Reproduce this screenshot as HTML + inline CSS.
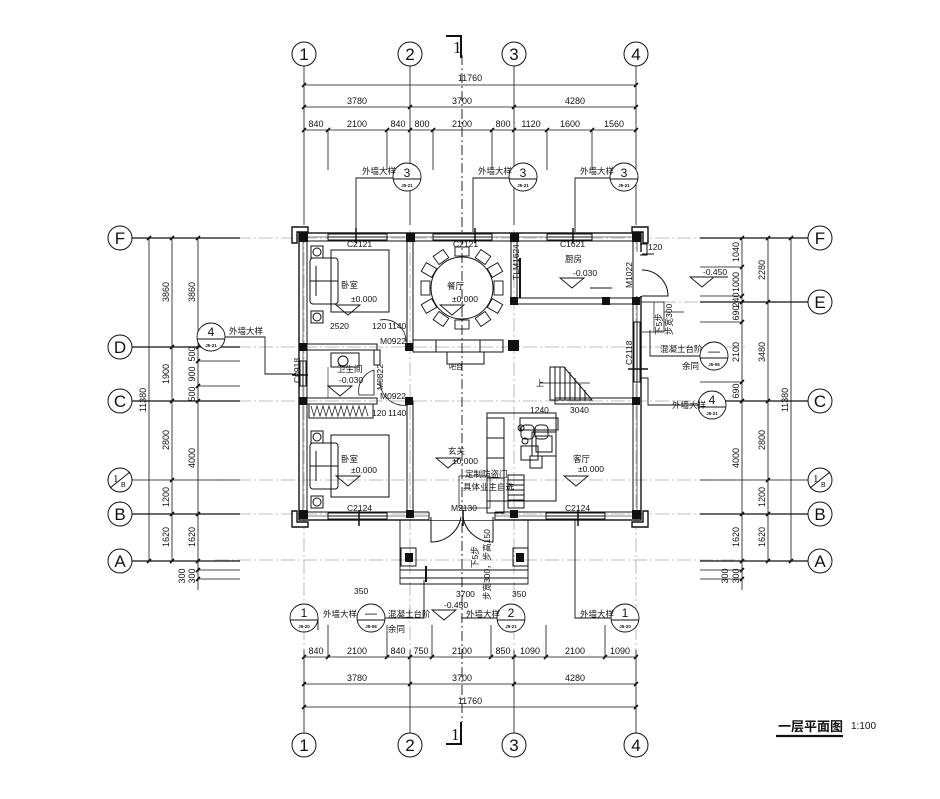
<!DOCTYPE html>
<html><head><meta charset="utf-8"><style>
html,body{margin:0;padding:0;background:#fff;}
svg{display:block;}
text{font-family:"Liberation Sans","Noto Sans CJK SC",sans-serif;fill:#111;}
.d{font-size:9px;text-anchor:middle;}
.c{font-size:8.5px;}
.ax{font-family:"Liberation Serif","Noto Serif CJK SC",serif;font-size:17px;text-anchor:middle;}
</style></head><body>
<svg width="940" height="799" viewBox="0 0 940 799" xmlns="http://www.w3.org/2000/svg">
<rect width="940" height="799" fill="#fff"/>
<g stroke="#aaa" stroke-width="0.8" stroke-dasharray="14 3 2 3">
<line x1="215" y1="238" x2="745" y2="238"/>
<line x1="215" y1="347" x2="745" y2="347"/>
<line x1="215" y1="401" x2="745" y2="401"/>
<line x1="215" y1="480" x2="745" y2="480"/>
<line x1="215" y1="514" x2="745" y2="514"/>
<line x1="215" y1="560" x2="745" y2="560"/>
<line x1="640" y1="302" x2="745" y2="302"/>
<line x1="304" y1="230" x2="304" y2="650"/>
<line x1="410" y1="230" x2="410" y2="650"/>
<line x1="514" y1="230" x2="514" y2="650"/>
<line x1="636" y1="230" x2="636" y2="650"/>
</g>
<g stroke="#111" fill="none">
<line x1="462" y1="55" x2="462" y2="722" stroke-width="0.9" stroke-dasharray="10 3 2 3"/>
<polyline points="446,36 461,36 461,58" stroke-width="2"/>
<polyline points="446,744 461,744 461,722" stroke-width="2"/>
</g>
<text x="453" y="53" style="font-family:'Liberation Serif',serif;font-size:17px">1</text>
<text x="451" y="740" style="font-family:'Liberation Serif',serif;font-size:17px">1</text>

<g stroke="#111" fill="#fff" stroke-width="1">
<circle cx="304" cy="54" r="12"/><circle cx="410" cy="54" r="12"/><circle cx="514" cy="54" r="12"/><circle cx="636" cy="54" r="12"/>
<circle cx="304" cy="745" r="12"/><circle cx="410" cy="745" r="12"/><circle cx="514" cy="745" r="12"/><circle cx="636" cy="745" r="12"/>
</g>
<g class="ax"><text x="304" y="60">1</text><text x="410" y="60">2</text><text x="514" y="60">3</text><text x="636" y="60">4</text>
<text x="304" y="751">1</text><text x="410" y="751">2</text><text x="514" y="751">3</text><text x="636" y="751">4</text></g>
<g stroke="#111" stroke-width="0.8">
<line x1="304" y1="66" x2="304" y2="225"/><line x1="410" y1="66" x2="410" y2="225"/><line x1="514" y1="66" x2="514" y2="225"/><line x1="636" y1="66" x2="636" y2="225"/>
<line x1="304" y1="650" x2="304" y2="733"/><line x1="410" y1="650" x2="410" y2="733"/><line x1="514" y1="650" x2="514" y2="733"/><line x1="636" y1="650" x2="636" y2="733"/>
<line x1="304" y1="85" x2="636" y2="85"/><line x1="304" y1="107" x2="636" y2="107"/><line x1="304" y1="130" x2="636" y2="130"/>
<line x1="328" y1="130" x2="328" y2="170"/><line x1="387" y1="130" x2="387" y2="170"/><line x1="433" y1="130" x2="433" y2="170"/><line x1="492" y1="130" x2="492" y2="170"/><line x1="547" y1="130" x2="547" y2="170"/><line x1="592" y1="130" x2="592" y2="170"/>
<line x1="304" y1="657" x2="636" y2="657"/><line x1="304" y1="684" x2="636" y2="684"/><line x1="304" y1="707" x2="636" y2="707"/>
<line x1="328" y1="625" x2="328" y2="657"/><line x1="387" y1="625" x2="387" y2="657"/><line x1="432" y1="625" x2="432" y2="657"/><line x1="491" y1="625" x2="491" y2="657"/><line x1="546" y1="625" x2="546" y2="657"/><line x1="605" y1="625" x2="605" y2="657"/>
</g>
<g stroke="#111" stroke-width="1.6">
<path d="M302,87 l4,-4 M634,87 l4,-4 M302,109 l4,-4 M408,109 l4,-4 M512,109 l4,-4 M634,109 l4,-4 M302,132 l4,-4 M326,132 l4,-4 M385,132 l4,-4 M408,132 l4,-4 M431,132 l4,-4 M490,132 l4,-4 M512,132 l4,-4 M545,132 l4,-4 M590,132 l4,-4 M634,132 l4,-4"/>
<path d="M302,659 l4,-4 M326,659 l4,-4 M385,659 l4,-4 M408,659 l4,-4 M430,659 l4,-4 M489,659 l4,-4 M512,659 l4,-4 M544,659 l4,-4 M603,659 l4,-4 M634,659 l4,-4 M302,686 l4,-4 M408,686 l4,-4 M512,686 l4,-4 M634,686 l4,-4 M302,709 l4,-4 M634,709 l4,-4"/>
</g>
<g class="d">
<text x="470" y="81">11760</text>
<text x="357" y="104">3780</text><text x="462" y="104">3700</text><text x="575" y="104">4280</text>
<text x="316" y="127">840</text><text x="357" y="127">2100</text><text x="398" y="127">840</text><text x="422" y="127">800</text><text x="462" y="127">2100</text><text x="503" y="127">800</text><text x="531" y="127">1120</text><text x="570" y="127">1600</text><text x="614" y="127">1560</text>
<text x="316" y="654">840</text><text x="357" y="654">2100</text><text x="398" y="654">840</text><text x="421" y="654">750</text><text x="462" y="654">2100</text><text x="503" y="654">850</text><text x="530" y="654">1090</text><text x="575" y="654">2100</text><text x="620" y="654">1090</text>
<text x="357" y="681">3780</text><text x="462" y="681">3700</text><text x="575" y="681">4280</text>
<text x="470" y="704">11760</text>
</g>

<g stroke="#111" fill="#fff" stroke-width="1">
<circle cx="120" cy="238" r="12"/><circle cx="120" cy="347" r="12"/><circle cx="120" cy="401" r="12"/><circle cx="120" cy="480" r="12"/><circle cx="120" cy="514" r="12"/><circle cx="120" cy="561" r="12"/>
<circle cx="820" cy="238" r="12"/><circle cx="820" cy="302" r="12"/><circle cx="820" cy="401" r="12"/><circle cx="820" cy="480" r="12"/><circle cx="820" cy="514" r="12"/><circle cx="820" cy="561" r="12"/>
<line x1="110" y1="488" x2="130" y2="472"/><line x1="810" y1="488" x2="830" y2="472"/>
</g>
<g class="ax"><text x="120" y="244">F</text><text x="120" y="353">D</text><text x="120" y="407">C</text><text x="120" y="520">B</text><text x="120" y="567">A</text>
<text x="820" y="244">F</text><text x="820" y="308">E</text><text x="820" y="407">C</text><text x="820" y="520">B</text><text x="820" y="567">A</text></g>
<text x="113" y="482" style="font-size:11px;font-family:'Liberation Serif',serif">1</text><text x="121" y="487" style="font-size:7px">B</text>
<text x="813" y="482" style="font-size:11px;font-family:'Liberation Serif',serif">1</text><text x="821" y="487" style="font-size:7px">B</text>

<g stroke="#111" stroke-width="0.8">
<line x1="132" y1="238" x2="240" y2="238" stroke-width="1.3"/><line x1="132" y1="347" x2="240" y2="347" stroke-width="1.3"/><line x1="132" y1="401" x2="240" y2="401" stroke-width="1.3"/><line x1="132" y1="480" x2="240" y2="480"/><line x1="132" y1="514" x2="240" y2="514" stroke-width="1.3"/><line x1="132" y1="561" x2="240" y2="561" stroke-width="1.3"/>
<line x1="149" y1="238" x2="149" y2="561"/><line x1="172" y1="238" x2="172" y2="561"/><line x1="198" y1="238" x2="198" y2="590"/>
<line x1="198" y1="361" x2="240" y2="361"/><line x1="198" y1="386" x2="240" y2="386"/><line x1="198" y1="570" x2="240" y2="570"/><line x1="198" y1="579" x2="240" y2="579"/>
<line x1="808" y1="238" x2="700" y2="238" stroke-width="1.3"/><line x1="808" y1="302" x2="700" y2="302" stroke-width="1.3"/><line x1="808" y1="401" x2="700" y2="401" stroke-width="1.3"/><line x1="808" y1="480" x2="700" y2="480"/><line x1="808" y1="514" x2="700" y2="514" stroke-width="1.3"/><line x1="808" y1="561" x2="700" y2="561" stroke-width="1.3"/>
<line x1="742" y1="238" x2="742" y2="590"/><line x1="768" y1="238" x2="768" y2="561"/><line x1="791" y1="238" x2="791" y2="561"/>
<line x1="700" y1="267" x2="742" y2="267"/><line x1="700" y1="296" x2="742" y2="296"/><line x1="700" y1="322" x2="742" y2="322"/><line x1="700" y1="382" x2="742" y2="382"/><line x1="700" y1="570" x2="742" y2="570"/><line x1="700" y1="579" x2="742" y2="579"/>
</g>
<g stroke="#111" stroke-width="1.6">
<path d="M147,240 l4,-4 M170,240 l4,-4 M196,240 l4,-4 M170,349 l4,-4 M196,349 l4,-4 M196,363 l4,-4 M196,388 l4,-4 M170,403 l4,-4 M196,403 l4,-4 M170,482 l4,-4 M170,516 l4,-4 M196,516 l4,-4 M147,563 l4,-4 M170,563 l4,-4 M196,563 l4,-4 M196,572 l4,-4 M196,581 l4,-4"/>
<path d="M740,240 l4,-4 M766,240 l4,-4 M789,240 l4,-4 M740,269 l4,-4 M740,298 l4,-4 M740,304 l4,-4 M766,304 l4,-4 M740,324 l4,-4 M740,384 l4,-4 M740,403 l4,-4 M766,403 l4,-4 M766,482 l4,-4 M740,516 l4,-4 M766,516 l4,-4 M740,563 l4,-4 M766,563 l4,-4 M789,563 l4,-4 M740,572 l4,-4 M740,581 l4,-4"/>
</g>
<g class="d">
<text transform="translate(169,292) rotate(-90)">3860</text><text transform="translate(195,292) rotate(-90)">3860</text>
<text transform="translate(169,374) rotate(-90)">1900</text><text transform="translate(195,354) rotate(-90)">500</text><text transform="translate(195,374) rotate(-90)">900</text><text transform="translate(195,394) rotate(-90)">500</text>
<text transform="translate(146,400) rotate(-90)">11380</text>
<text transform="translate(169,440) rotate(-90)">2800</text><text transform="translate(195,458) rotate(-90)">4000</text>
<text transform="translate(169,497) rotate(-90)">1200</text>
<text transform="translate(169,537) rotate(-90)">1620</text><text transform="translate(195,537) rotate(-90)">1620</text>
<text transform="translate(185,576) rotate(-90)">300</text><text transform="translate(195,576) rotate(-90)">300</text>
<text transform="translate(739,252) rotate(-90)">1040</text><text transform="translate(739,282) rotate(-90)">1000</text><text transform="translate(739,300) rotate(-90)">240</text><text transform="translate(739,313) rotate(-90)">690</text><text transform="translate(739,352) rotate(-90)">2100</text><text transform="translate(739,391) rotate(-90)">690</text>
<text transform="translate(739,458) rotate(-90)">4000</text><text transform="translate(739,537) rotate(-90)">1620</text>
<text transform="translate(765,270) rotate(-90)">2280</text><text transform="translate(765,352) rotate(-90)">3480</text><text transform="translate(765,440) rotate(-90)">2800</text><text transform="translate(765,497) rotate(-90)">1200</text><text transform="translate(765,537) rotate(-90)">1620</text>
<text transform="translate(788,400) rotate(-90)">11380</text>
<text transform="translate(728,576) rotate(-90)">300</text><text transform="translate(739,576) rotate(-90)">300</text>
</g>

<g stroke="#111" fill="none" stroke-width="1">
<rect x="299" y="233" width="342" height="287" stroke-width="1.4"/>
<rect x="307" y="241" width="326" height="271"/>
<line x1="303" y1="241" x2="303" y2="512" stroke-width="0.6"/><line x1="637" y1="241" x2="637" y2="512" stroke-width="0.6"/>
<line x1="307" y1="237" x2="633" y2="237" stroke-width="0.6"/><line x1="307" y1="516" x2="633" y2="516" stroke-width="0.6"/>
<path d="M292,227 h16 v5 h-11 v11 h-5 z" fill="#fff" stroke-width="1.4"/>
<path d="M648,227 h-16 v5 h11 v11 h5 z" fill="#fff" stroke-width="1.4"/>
<path d="M292,527 h16 v-5 h-11 v-11 h-5 z" fill="#fff" stroke-width="1.4"/>
<path d="M648,527 h-16 v-5 h11 v-11 h5 z" fill="#fff" stroke-width="1.4"/>
<rect x="328" y="234" width="59" height="6" fill="#fff"/><line x1="328" y1="237" x2="387" y2="237"/>
<rect x="433" y="234" width="59" height="6" fill="#fff"/><line x1="433" y1="237" x2="492" y2="237"/>
<rect x="547" y="234" width="45" height="6" fill="#fff"/><line x1="547" y1="237" x2="592" y2="237"/>
<rect x="328" y="513" width="59" height="6" fill="#fff"/><line x1="328" y1="516" x2="387" y2="516"/>
<rect x="546" y="513" width="59" height="6" fill="#fff"/><line x1="546" y1="516" x2="605" y2="516"/>
<rect x="300" y="361" width="6" height="25" fill="#fff"/><line x1="303" y1="361" x2="303" y2="386"/>
<rect x="634" y="322" width="6" height="60" fill="#fff"/><line x1="637" y1="322" x2="637" y2="382"/>
<rect x="407" y="241" width="6" height="106"/>
<rect x="407" y="401" width="6" height="112"/>
<rect x="511" y="241" width="6" height="57"/>
<rect x="517" y="298" width="116" height="6"/>
<rect x="307" y="344" width="70" height="6"/>
<rect x="307" y="398" width="70" height="6"/>
<rect x="374" y="350" width="6" height="15"/>
<rect x="555" y="398" width="78" height="6"/>
<line x1="520" y1="258" x2="520" y2="298" stroke-width="2"/>
<rect x="413" y="340" width="90" height="12"/>
<line x1="436" y1="340" x2="436" y2="352"/><line x1="480" y1="340" x2="480" y2="352"/>
<rect x="447" y="352" width="37" height="12"/>
<rect x="429" y="510" width="66" height="10" fill="#fff" stroke="none"/>
<line x1="429" y1="512" x2="429" y2="520"/><line x1="495" y1="512" x2="495" y2="520"/>
<path d="M431,517 v25 a30,30 0 0 0 30,-25"/><path d="M493,517 v25 a30,30 0 0 1 -30,-25" />
<rect x="634" y="252" width="8" height="44" fill="#fff" stroke="none"/>
<path d="M642,254 h12 M640,297 h2"/>
<path d="M642,296 h26 a26,26 0 0 0 -26,-26"/>
<path d="M640,244 h7 v11 h-7"/>
<path d="M374,370 v25 h-15 a22,22 0 0 1 15,-25" stroke-width="0.8"/>
<path d="M380,380 a24,24 0 0 0 28,25" stroke-width="0.8"/>
<path d="M380,320 a22,22 0 0 1 26,22" stroke-width="0.8"/>
<rect x="309" y="404" width="64" height="14"/>
<path d="M311,406 l3,10 l3,-10 l3,10 l3,-10 l3,10 l3,-10 l3,10 l3,-10 l3,10 l3,-10 l3,10 l3,-10 l3,10 l3,-10 l3,10 l3,-10 l3,10 l3,-10 l3,10" stroke-width="0.7"/>
<rect x="331" y="250" width="58" height="62"/><rect x="310" y="258" width="28" height="46" rx="3"/><line x1="316" y1="266" x2="316" y2="296"/><line x1="310" y1="281" x2="338" y2="281"/>
<rect x="331" y="435" width="58" height="62"/><rect x="310" y="443" width="28" height="46" rx="3"/><line x1="316" y1="451" x2="316" y2="481"/><line x1="310" y1="466" x2="338" y2="466"/>
<rect x="311" y="246" width="12" height="12"/><circle cx="317" cy="252" r="4"/><rect x="311" y="311" width="12" height="12"/><circle cx="317" cy="317" r="4"/>
<rect x="311" y="431" width="12" height="12"/><circle cx="317" cy="437" r="4"/><rect x="311" y="496" width="12" height="12"/><circle cx="317" cy="502" r="4"/>
<rect x="331" y="353" width="28" height="14"/><circle cx="343" cy="361" r="5"/><line x1="328" y1="367" x2="328" y2="398" stroke-width="0.6"/>
<circle cx="462" cy="288" r="31"/>
<g stroke-width="0.9">
<rect x="455" y="247" width="14" height="9"/><rect x="455" y="320" width="14" height="9"/>
<rect x="421" y="281" width="9" height="14"/><rect x="494" y="281" width="9" height="14"/>
<rect x="435" y="252" width="12" height="10" transform="rotate(-35 441 257)"/><rect x="477" y="252" width="12" height="10" transform="rotate(35 483 257)"/>
<rect x="435" y="314" width="12" height="10" transform="rotate(35 441 319)"/><rect x="477" y="314" width="12" height="10" transform="rotate(-35 483 319)"/>
<rect x="424" y="264" width="10" height="12" transform="rotate(-60 429 270)"/><rect x="490" y="264" width="10" height="12" transform="rotate(60 495 270)"/>
<rect x="424" y="300" width="10" height="12" transform="rotate(60 429 306)"/><rect x="490" y="300" width="10" height="12" transform="rotate(-60 495 306)"/>
</g>
<path d="M550,367 h14 l28,33 h-42 z"/>
<path d="M555,367 v33 M560,367 v33 M565,367 v33 M570,372 v28 M575,378 v22 M580,384 v16 M585,390 v10"/>
<line x1="540" y1="383" x2="590" y2="383" stroke-width="0.7"/>
<rect x="487" y="413" width="69" height="88"/>
<rect x="520" y="418" width="38" height="12"/>
<rect x="521" y="425" width="13" height="14" rx="4"/><rect x="535" y="425" width="13" height="14" rx="4"/>
<rect x="532" y="432" width="24" height="24"/><rect x="536" y="436" width="16" height="16"/>
<rect x="521" y="446" width="17" height="14"/><rect x="530" y="456" width="12" height="12"/>
<circle cx="525" cy="441" r="3"/><circle cx="521" cy="428" r="3"/>
<rect x="487" y="418" width="17" height="95"/>
<line x1="487" y1="438" x2="504" y2="438"/><line x1="487" y1="458" x2="504" y2="458"/><line x1="487" y1="478" x2="504" y2="478"/>
<rect x="508" y="475" width="16" height="33"/>
<path d="M508,480 h16 M508,485 h16 M508,490 h16 M508,495 h16 M508,500 h16"/>
<rect x="459" y="476" width="31" height="32" stroke-width="0.7"/>
<path d="M400,520 v64 h128 v-64" stroke-width="0.9"/>
<path d="M400,570 h128 M400,578 h128" stroke-width="0.9"/>
<rect x="401" y="548" width="15" height="18"/><rect x="513" y="548" width="15" height="18"/>
<line x1="426" y1="566" x2="426" y2="582" stroke-width="2"/>
<path d="M642,302 h22 v30 h-22" stroke-width="0.8"/>
<path d="M654,302 v30 M664,312 h20" stroke-width="0.7"/>
</g>
<g fill="#111">
<rect x="299" y="233" width="9" height="9"/><rect x="406" y="233" width="9" height="9"/><rect x="510" y="233" width="9" height="9"/><rect x="632" y="233" width="9" height="9"/>
<rect x="510" y="297" width="8" height="8"/><rect x="602" y="297" width="8" height="8"/><rect x="632" y="297" width="8" height="8"/>
<rect x="299" y="343" width="8" height="8"/><rect x="405" y="343" width="8" height="8"/><rect x="508" y="340" width="11" height="11"/>
<rect x="299" y="397" width="8" height="8"/><rect x="405" y="397" width="8" height="8"/><rect x="632" y="397" width="8" height="8"/>
<rect x="299" y="510" width="9" height="9"/><rect x="406" y="510" width="8" height="8"/><rect x="510" y="510" width="8" height="8"/><rect x="632" y="510" width="9" height="9"/>
<rect x="405" y="553" width="8" height="9"/><rect x="516" y="553" width="8" height="9"/>
</g>
<g stroke="#111" stroke-width="1.5">
<line x1="356" y1="228" x2="356" y2="243"/><line x1="475" y1="228" x2="475" y2="243"/><line x1="573" y1="228" x2="573" y2="243"/>
<line x1="359" y1="510" x2="359" y2="526"/><line x1="578" y1="510" x2="578" y2="526"/><line x1="463" y1="510" x2="463" y2="526"/>
<line x1="292" y1="375" x2="308" y2="375"/><line x1="628" y1="369" x2="648" y2="369"/>
</g>

<g stroke="#111" fill="#fff" stroke-width="0.9">
<polyline points="393,178 356,178 356,232" fill="none"/><polyline points="509,178 473,178 473,232" fill="none"/><polyline points="610,178 575,178 575,232" fill="none"/>
<circle cx="407" cy="177" r="14"/><circle cx="523" cy="177" r="14"/><circle cx="624" cy="177" r="14"/>
<line x1="393" y1="179" x2="421" y2="179"/><line x1="509" y1="179" x2="537" y2="179"/><line x1="610" y1="179" x2="638" y2="179"/>
<polyline points="225,337 265,337 265,374 296,374" fill="none"/>
<circle cx="211" cy="337" r="14"/><line x1="197" y1="339" x2="225" y2="339"/>
<polyline points="698,405 648,405 648,378 640,378" fill="none"/>
<circle cx="712" cy="405" r="14"/><line x1="698" y1="407" x2="726" y2="407"/>
<polyline points="700,356 650,356 650,330" fill="none"/>
<circle cx="714" cy="356" r="14"/><line x1="700" y1="358" x2="728" y2="358"/>
<polyline points="318,619 318,630" fill="none"/>
<circle cx="304" cy="618" r="14"/><line x1="290" y1="620" x2="318" y2="620"/>
<circle cx="371" cy="618" r="14"/><line x1="357" y1="620" x2="385" y2="620"/>
<polyline points="385,618 424,618 424,580" fill="none"/>
<circle cx="511" cy="618" r="14"/><line x1="497" y1="620" x2="525" y2="620"/>
<polyline points="497,618 461,618" fill="none"/>
<circle cx="625" cy="618" r="14"/><line x1="611" y1="620" x2="639" y2="620"/>
<polyline points="611,618 575,618 575,520" fill="none"/>
</g>
<g style="font-size:12px;text-anchor:middle">
<text x="407" y="177">3</text><text x="523" y="177">3</text><text x="624" y="177">3</text><text x="211" y="336">4</text><text x="712" y="404">4</text><text x="714" y="355">—</text>
<text x="304" y="617">1</text><text x="371" y="617">—</text><text x="511" y="617">2</text><text x="625" y="617">1</text>
</g>
<g style="font-size:4.5px;text-anchor:middle;font-weight:bold">
<text x="407" y="187">J5-21</text><text x="523" y="187">J5-21</text><text x="624" y="187">J5-21</text><text x="211" y="347">J5-21</text><text x="712" y="415">J5-21</text><text x="714" y="366">J5-06</text>
<text x="304" y="628">J5-20</text><text x="371" y="628">J5-06</text><text x="511" y="628">J5-21</text><text x="625" y="628">J5-20</text>
</g>
<g class="c">
<text x="362" y="174">外墙大样</text><text x="478" y="174">外墙大样</text><text x="580" y="174">外墙大样</text>
<text x="229" y="334">外墙大样</text><text x="672" y="408">外墙大样</text>
<text x="660" y="352">混凝土台阶</text><text x="682" y="369">余同</text>
<text x="323" y="617">外墙大样</text><text x="388" y="617">混凝土台阶</text><text x="388" y="632">余同</text>
<text x="466" y="617">外墙大样</text><text x="580" y="617">外墙大样</text>
</g>

<g class="c">
<text x="341" y="288">卧室</text><text x="351" y="302">±0.000</text>
<text x="341" y="462">卧室</text><text x="351" y="473">±0.000</text>
<text x="447" y="289">餐厅</text><text x="452" y="302">±0.000</text>
<text x="565" y="262">厨房</text><text x="573" y="276">-0.030</text>
<text x="337" y="372">卫生间</text><text x="339" y="383">-0.030</text>
<text x="448" y="454">玄关</text><text x="452" y="455" dy="9">±0.000</text>
<text x="573" y="462">客厅</text><text x="578" y="472">±0.000</text>
<text x="465" y="477">定制防盗门</text><text x="463" y="490">具体业主自选</text>
<text x="449" y="369" style="font-size:7px">吧台</text>
<text x="536" y="386" style="font-size:8px">上</text>
<text x="703" y="275">-0.450</text>
<text x="444" y="608">-0.450</text>
<text x="347" y="247">C2121</text><text x="453" y="247">C2121</text><text x="560" y="247">C1621</text>
<text x="347" y="511">C2124</text><text x="565" y="511">C2124</text><text x="451" y="511">M2130</text>
<text x="330" y="329">2520</text><text x="372" y="329">120</text><text x="388" y="329">1140</text>
<text x="372" y="416">120</text><text x="388" y="416">1140</text>
<text x="380" y="344">M0922</text><text x="380" y="399">M0922</text>
<text x="570" y="413">3040</text><text x="530" y="413">1240</text>
<text x="648" y="250">120</text>
<text x="354" y="594">350</text><text x="456" y="597">3700</text><text x="512" y="597">350</text>
<text transform="translate(519,280) rotate(-90)">TLM1624</text>
<text transform="translate(632,288) rotate(-90)">M1022</text>
<text transform="translate(632,365) rotate(-90)">C2118</text>
<text transform="translate(300,383) rotate(-90)">C0918</text>
<text transform="translate(383,390) rotate(-90)">M0822</text>
<text transform="translate(478,568) rotate(-90)">下5步</text>
<text transform="translate(490,600) rotate(-90)">步宽300，步高150</text>
<text transform="translate(662,335) rotate(-90)">下5步</text>
<text transform="translate(672,335) rotate(-90)">步宽300</text>
</g>
<g stroke="#111" fill="none" stroke-width="0.9">
<path d="M336,305 h24 l-12,10 z"/><path d="M336,476 h24 l-12,10 z"/><path d="M440,305 h24 l-12,10 z"/>
<path d="M560,278 h24 l-12,10 z"/><path d="M328,386 h24 l-12,10 z"/><path d="M436,458 h24 l-12,10 z"/><path d="M564,476 h24 l-12,10 z"/>
<path d="M690,277 h24 l-12,10 z"/><path d="M432,610 h24 l-12,10 z"/>
<line x1="590" y1="288" x2="612" y2="288"/><line x1="706" y1="277" x2="728" y2="277"/>
</g>

<text x="778" y="731" style="font-size:13px;font-weight:bold;font-family:'Noto Sans CJK SC',sans-serif">一层平面图</text>
<line x1="776" y1="736" x2="843" y2="736" stroke="#111" stroke-width="2.2"/>
<text x="851" y="729" style="font-size:10px">1:100</text>
</svg>
</body></html>
